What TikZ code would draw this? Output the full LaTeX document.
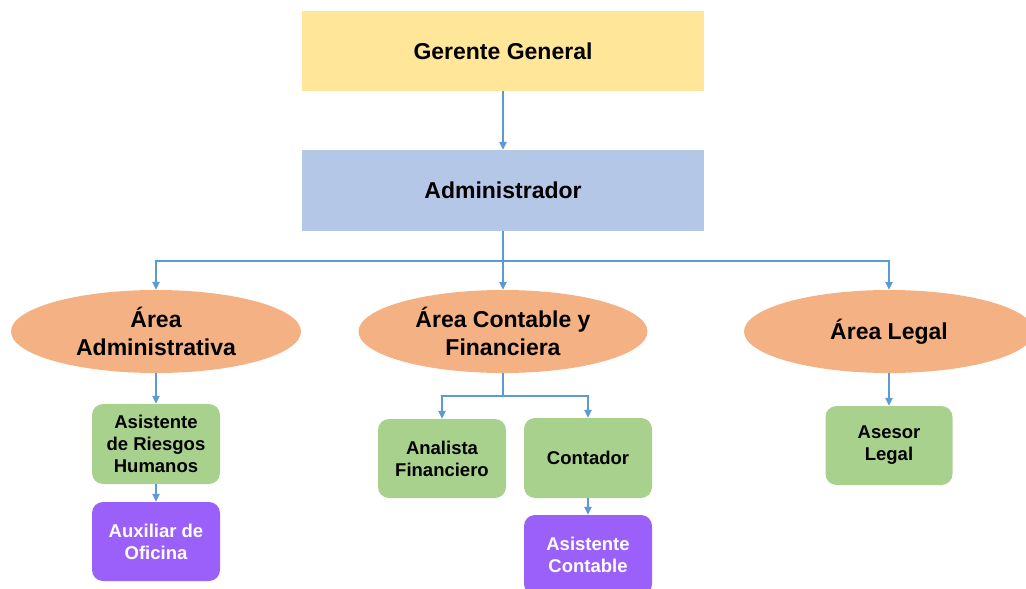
\documentclass[tikz,border=0pt]{standalone}
\usepackage{fontspec}
\setmainfont{Liberation Sans}
\usetikzlibrary{arrows.meta,shapes.geometric}
\definecolor{cyel}{RGB}{255,230,153}
\definecolor{cblu}{RGB}{180,199,231}
\definecolor{corg}{RGB}{244,177,131}
\definecolor{cgrn}{RGB}{169,209,142}
\definecolor{cpur}{RGB}{155,95,250}
\definecolor{cline}{RGB}{91,155,213}
\tikzset{
  topbox/.style={rectangle, draw=none, inner sep=0pt, minimum width=402pt, minimum height=80pt, align=center, font=\fontsize{23}{28.5}\selectfont\bfseries},
  areanode/.style={ellipse, fill=corg, draw=none, inner sep=0pt, minimum width=290pt, minimum height=83pt, align=center, font=\fontsize{23}{28.5}\selectfont\bfseries},
  jobbox/.style={rectangle, rounded corners=11pt, fill=cgrn, draw=none, inner sep=0pt, minimum width=128pt, minimum height=80pt, align=center, font=\fontsize{18.5}{22}\selectfont\bfseries},
  subbox/.style={jobbox, fill=cpur, text=white},
  conn/.style={draw=cline, line width=1.3pt},
  arr/.style={conn, -{Triangle[width=7.5pt,length=8pt]}}
}
\begin{document}
\begin{tikzpicture}[x=1pt,y=-1pt]
\useasboundingbox (0,0) rectangle (1026,589);
\node[topbox, fill=cyel] (gg) at (503,51) {Gerente General};
\node[topbox, fill=cblu, minimum height=81pt] (adm) at (503,190.5) {Administrador};
\node[areanode] (e1) at (156,331.5) {Área\\Administrativa};
\node[areanode, minimum width=289pt] (e2) at (503,331.5) {Área Contable y\\Financiera};
\node[areanode] (e3) at (889,331.5) {Área Legal};
\node[jobbox] (rh) at (156,444) {Asistente\\de Riesgos\\Humanos};
\node[subbox, minimum height=79pt] (aux) at (156,541.5) {Auxiliar de\\Oficina};
\node[jobbox, minimum height=79pt] (an) at (442,458.5) {Analista\\Financiero};
\node[jobbox] (co) at (588,458) {Contador};
\node[subbox] (ac) at (588,555) {Asistente\\Contable};
\node[jobbox, minimum width=127pt, minimum height=79pt] (al) at (889,445.5) {Asesor\\Legal};
\coordinate (hb) at (503,261);
\coordinate (hb2) at (503,396);
\draw[arr] (gg) -- (adm);
\draw[conn] (adm) -- (hb);
\draw[arr] (hb) -| (e1);
\draw[arr] (hb) -- (e2);
\draw[arr] (hb) -| (e3);
\draw[arr] (e1) -- (rh);
\draw[arr] (rh) -- (aux);
\draw[conn] (e2) -- (hb2);
\draw[arr] (hb2) -| (an);
\draw[arr] (hb2) -| (co);
\draw[arr] (co) -- (ac);
\draw[arr] (e3) -- (al);
\end{tikzpicture}
\end{document}
